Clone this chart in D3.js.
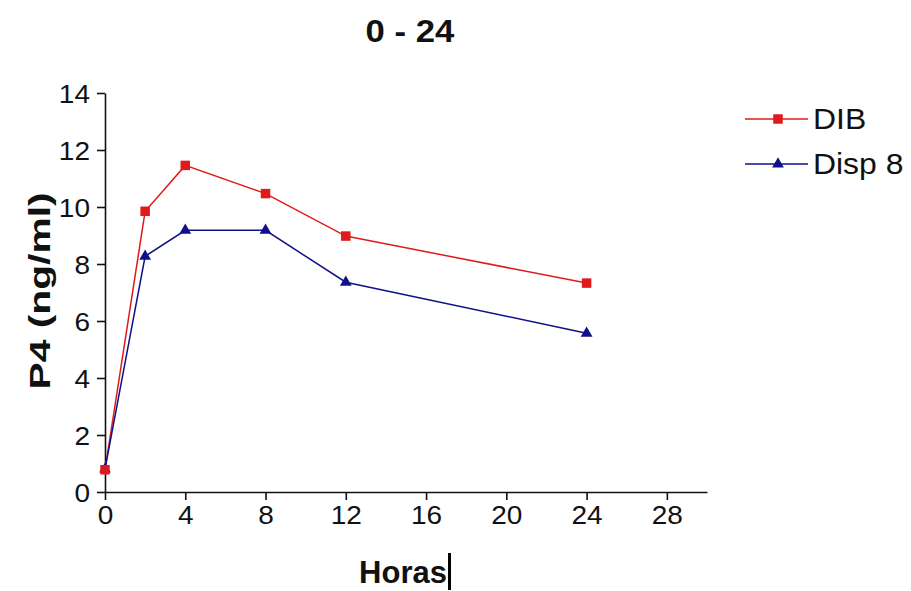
<!DOCTYPE html>
<html><head><meta charset="utf-8">
<script src="https://cdn.jsdelivr.net/npm/d3@7"></script>
<style>body{margin:0;background:#fff}svg{display:block}text{font-family:"Liberation Sans",Arial,sans-serif;fill:#111}</style>
</head><body>
<svg id="c" width="911" height="591"></svg>
<script>
const hours = [0, 2, 4, 8, 12, 24];
const dib = [0.78, 9.85, 11.46, 10.47, 8.98, 7.33];
const disp8 = [0.8, 8.27, 9.18, 9.18, 7.36, 5.57];
const xTicks = [0, 4, 8, 12, 16, 20, 24, 28];
const yTicks = [0, 2, 4, 6, 8, 10, 12, 14];
const seriesNames = ["DIB", "Disp 8"];
const title = "0 - 24";
const xLabel = "Horas";
const yLabel = "P4 (ng/ml)";

const svg = d3.select("#c");
const x = d3.scaleLinear().domain([0, 30]).range([105, 707]);
const y = d3.scaleLinear().domain([0, 14]).range([492, 93]);

function stretchText(sel, sx){
  sel.each(function(){
    const t = d3.select(this);
    const xx = +t.attr("x")||0, yy = +t.attr("y")||0;
    t.attr("transform", `translate(${xx},${yy}) scale(${sx},1) translate(${-xx},${-yy})`);
  });
}

// axes
const xAxis = svg.append("g").attr("transform", `translate(0,${y(0)})`)
  .call(d3.axisBottom(x).tickValues(xTicks).tickSize(8).tickSizeOuter(0).tickFormat(d3.format("d")));
const yAxis = svg.append("g").attr("transform", `translate(${x(0)},0)`)
  .call(d3.axisLeft(y).tickValues(yTicks).tickSize(8).tickSizeOuter(0).tickFormat(d3.format("d")));
[xAxis, yAxis].forEach(g => {
  g.attr("font-size", null).attr("font-family", null);
  g.select(".domain").attr("stroke", "#111").attr("stroke-width", 1.6);
  g.selectAll(".tick line").attr("stroke", "#111").attr("stroke-width", 1.6);
  g.selectAll(".tick text").attr("fill", "#2a2a2a").style("font-size", "25px");
});
xAxis.selectAll(".tick text").attr("dy", "0").attr("y", 32).attr("transform", "scale(1.12,1)");
yAxis.selectAll(".tick text").attr("dy", "0.36em").attr("x", 0)
  .attr("transform", "translate(-15,0) scale(1.12,1)");

// lines
const colors = ["#e01a1a", "#10108a"];
const seriesData = [dib, disp8];
const line = d3.line().x((d,i)=>x(hours[i])).y(d=>y(d));
seriesData.forEach((s, k) => {
  svg.append("path").datum(s).attr("d", line).attr("fill", "none")
    .attr("stroke", colors[k]).attr("stroke-width", 1.5);
});
const sq = d3.symbol().type(d3.symbolSquare).size(90);
const tri = d3.symbol().type(d3.symbolTriangle).size(60);
svg.append("g").selectAll("path").data(disp8).join("path")
  .attr("d", tri).attr("fill", colors[1])
  .attr("transform", (d,i)=>`translate(${x(hours[i])},${y(d)})`);
svg.append("g").selectAll("path").data(dib).join("path")
  .attr("d", sq).attr("fill", colors[0])
  .attr("transform", (d,i)=>`translate(${x(hours[i])},${y(d)})`);

// legend
const legY = [119, 164];
seriesNames.forEach((n, k) => {
  svg.append("line").attr("x1", 745).attr("x2", 808).attr("y1", legY[k]).attr("y2", legY[k])
    .attr("stroke", colors[k]).attr("stroke-width", 1.5);
  svg.append("path").attr("d", k===0 ? sq : tri).attr("fill", colors[k])
    .attr("transform", `translate(778,${legY[k]})`);
  const t = svg.append("text").attr("x", 813).attr("y", legY[k] + 10).text(n)
    .style("font-size", "29px").attr("fill", "#222");
  stretchText(t, 1.1);
});

// title & labels
const tt = svg.append("text").attr("x", 410).attr("y", 42).attr("text-anchor", "middle")
  .style("font-size", "31px").style("font-weight", "bold").text(title);
stretchText(tt, 1.12);
svg.append("text").attr("x", 403).attr("y", 583).attr("text-anchor", "middle")
  .style("font-size", "31px").style("font-weight", "bold").text(xLabel);
svg.append("rect").attr("x", 448).attr("y", 553).attr("width", 3).attr("height", 37).attr("fill", "#000");
svg.append("text").attr("text-anchor", "middle")
  .attr("transform", "translate(50,291) rotate(-90) scale(1.36,1)")
  .style("font-size", "30px").style("font-weight", "bold").text(yLabel);
</script>
</body></html>
